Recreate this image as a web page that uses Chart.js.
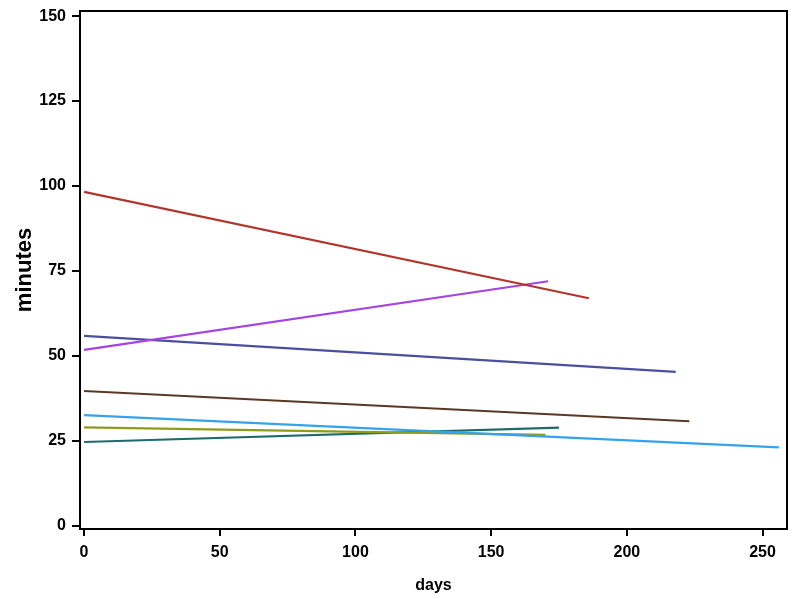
<!DOCTYPE html>
<html><head><meta charset="utf-8">
<script src="https://cdn.jsdelivr.net/npm/chart.js@4/dist/chart.umd.min.js"></script>
<style>html,body{margin:0;padding:0;background:#fff}#wrap{width:798px;height:599px}</style>
</head><body><div id="wrap"><canvas id="c" width="798" height="599"></canvas></div>
<script>
// Each subject: start/end day and fitted minutes
const seriesNames = ["s1","s2","s3","s4","s5","s6","s7"];
const seriesDays = [[0,186],[0,171],[0,218],[0,223],[0,256],[0,170],[0,175]];
const seriesMinutes = [[98.3,67],[51.8,72],[55.9,45.3],[39.7,30.8],[32.6,23.1],[29.0,26.8],[24.7,28.9]];
const seriesColors = ["#b0362c","#a443e6","#4b4f9c","#5a3826","#35a2ee","#8c9c1c","#1f6b6b"];
const xTicks = [0,50,100,150,200,250];
const yTicks = [0,25,50,75,100,125,150];

const datasets = seriesNames.map((n,i)=>({
  label:n,
  data: seriesDays[i].map((d,j)=>({x:d,y:seriesMinutes[i][j]})),
  borderColor: seriesColors[i], backgroundColor: seriesColors[i],
  borderWidth:2.2, showLine:true, pointRadius:0, tension:0
}));

const frame = {id:'frame', afterDraw(ch){const a=ch.chartArea,c=ch.ctx;c.save();c.strokeStyle='#000';c.lineWidth=2;c.strokeRect(a.left,a.top,a.right-a.left,a.bottom-a.top);c.restore();}};
const fam = '"Liberation Sans Narrow", "Liberation Sans", Arial, sans-serif';
const font = {family:fam, weight:'bold', size:16};
new Chart(document.getElementById('c'),{
  type:'scatter',
  data:{datasets},
  options:{
    responsive:false, animation:false,
    layout:{padding:{top:11,right:11,left:0,bottom:0}},
    plugins:{legend:{display:false},tooltip:{enabled:false}},
    scales:{
      x:{type:'linear',min:-1.5,max:259,
        afterBuildTicks:s=>{s.ticks=xTicks.map(v=>({value:v}));},
        afterFit:s=>{s.height=70;s.paddingLeft=0;s.paddingRight=0;},
        grid:{drawOnChartArea:false,drawTicks:true,tickLength:7,color:'#000',lineWidth:2},
        border:{color:'#000',width:2},
        ticks:{color:'#000',font,padding:7,maxRotation:0},
        title:{display:true,text:'days',color:'#000',font:{family:fam,weight:'bold',size:16},padding:{top:4}}},
      y:{type:'linear',min:-0.9,max:151.5,
        afterBuildTicks:s=>{s.ticks=yTicks.map(v=>({value:v}));},
        afterFit:s=>{s.width=80;s.paddingTop=0;s.paddingBottom=0;},
        grid:{drawOnChartArea:false,drawTicks:true,tickLength:8,color:'#000',lineWidth:2},
        border:{color:'#000',width:2},
        ticks:{color:'#000',font,padding:6},
        title:{display:true,text:'minutes',color:'#000',font:{family:fam,weight:'bold',size:22},padding:{top:12,bottom:4}}}
    }
  },
  plugins:[frame]
});
</script></body></html>
